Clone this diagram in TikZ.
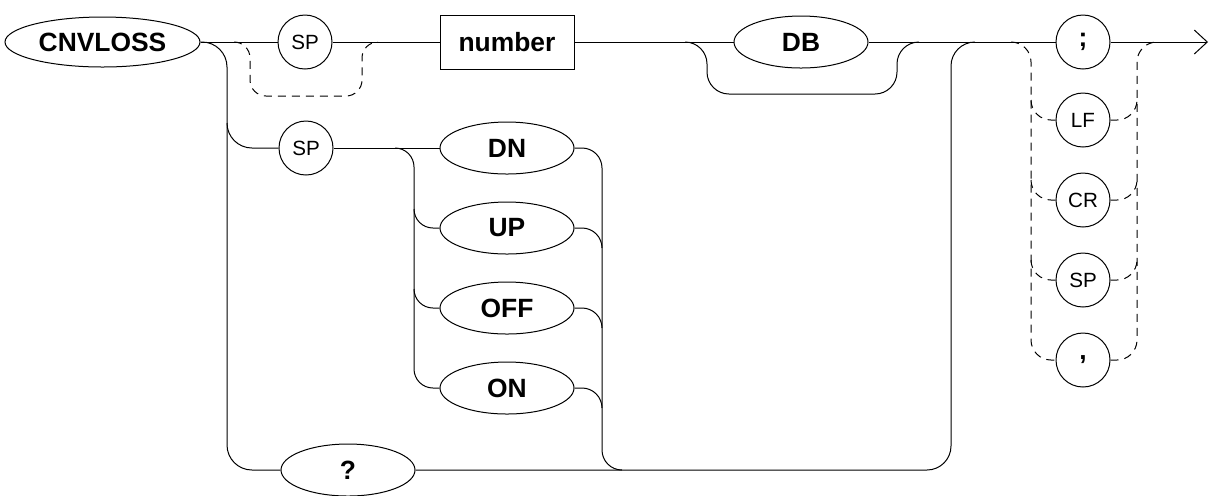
\documentclass[tikz,border=0pt]{standalone}
\usepackage{fontspec}
\setmainfont{Liberation Sans}
\usetikzlibrary{shapes.geometric,arrows.meta}
\begin{document}
\begin{tikzpicture}[x=0.5pt,y=-0.5pt,
  line width=0.5pt,
  kw/.style={draw, ellipse, inner sep=0pt, minimum width=67pt, minimum height=26pt,
    font=\bfseries\fontsize{13.2}{14}\selectfont},
  term/.style={draw, circle, inner sep=0pt, minimum size=27pt,
    font=\fontsize{10.3}{12}\selectfont},
  punct/.style={term, font=\bfseries\fontsize{13.2}{14}\selectfont},
  param/.style={draw, rectangle, inner sep=0pt, minimum width=67pt, minimum height=27pt,
    font=\bfseries\fontsize{13.2}{14}\selectfont},
  opt/.style={dash pattern=on 4pt off 3pt},
  tip/.style={-{Straight Barb[length=6.5pt,width=12pt]}}
]
\useasboundingbox (0,0) rectangle (1209,495);

% keyword, parameter and terminal nodes
\node[kw, minimum width=97.5pt, minimum height=25pt] (cmd) at (102.5,42) {CNVLOSS};
\node[term] (sp1) at (305,42) {SP};
\node[param] (num) at (507,42) {number};
\node[kw] (db) at (801,42) {DB};
\node[punct] (semi) at (1083,42) {;};
\node[term] (lf) at (1083,120) {LF};
\node[term] (cr) at (1083,200) {CR};
\node[term] (sp3) at (1083,280) {SP};
\node[punct] (comma) at (1083,360) {,};
\node[term] (sp2) at (306,148) {SP};
\node[kw] (dn) at (507,148) {DN};
\node[kw] (up) at (507,228) {UP};
\node[kw] (off) at (507,308) {OFF};
\node[kw] (on) at (507,388) {ON};
\node[kw] (q) at (348,470) {?};
\coordinate (end) at (1208,42);

% main line
\draw (cmd.east) -- (sp1.west);
\draw (sp1.east) -- (num.west);
\draw (num.east) -- (db.west);
\draw (db.east) -- (semi.west);
\draw[tip] (semi.east) -- (end);

% optional SP before the number
\draw[opt, rounded corners=8pt] (234,42) -- (250,42) -- (250,96) -- (362,96) -- (362,42) -- (378,42);

% optional DB suffix
\draw[rounded corners=11pt] (685,42) -- (707,42) -- (707,94) -- (897,94) -- (897,42) -- (919,42);

% left branch: SP + state, or query
\draw[rounded corners=12.5pt] (cmd.east) -- (227,42) -- (227,470) -- (q.west);
\draw[rounded corners=12.5pt] (227,123) -- (227,148) -- (sp2.west);
\draw (sp2.east) -- (dn.west);

% state alternatives: fan out
\draw[rounded corners=9.5pt] (395,148) -- (414,148) -- (414,388) -- (on.west);
\draw[rounded corners=9.5pt] (414,209) -- (414,228) -- (up.west);
\draw[rounded corners=9.5pt] (414,289) -- (414,308) -- (off.west);

% state alternatives: merge
\draw[rounded corners=10pt] (dn.east) -- (602,148) -- (602,470) -- (622,470);
\draw[rounded corners=10pt] (up.east) -- (602,228) -- (602,248);
\draw[rounded corners=10pt] (off.east) -- (602,308) -- (602,328);
\draw[rounded corners=10pt] (on.east) -- (602,388) -- (602,408);

% return to the main line
\draw[rounded corners=12pt] (q.east) -- (951,470) -- (951,42) -- (975,42);

% terminator alternatives
\draw[opt, rounded corners=10pt] (1011,42) -- (1031,42) -- (1031,360) -- (comma.west);
\draw[opt, rounded corners=10pt] (1031,100) -- (1031,120) -- (lf.west);
\draw[opt, rounded corners=10pt] (1031,180) -- (1031,200) -- (cr.west);
\draw[opt, rounded corners=10pt] (1031,260) -- (1031,280) -- (sp3.west);
\draw[opt, rounded corners=10pt] (comma.east) -- (1137,360) -- (1137,42) -- (1157,42);
\draw[opt, rounded corners=10pt] (lf.east) -- (1137,120) -- (1137,100);
\draw[opt, rounded corners=10pt] (cr.east) -- (1137,200) -- (1137,180);
\draw[opt, rounded corners=10pt] (sp3.east) -- (1137,280) -- (1137,260);
\end{tikzpicture}
\end{document}
